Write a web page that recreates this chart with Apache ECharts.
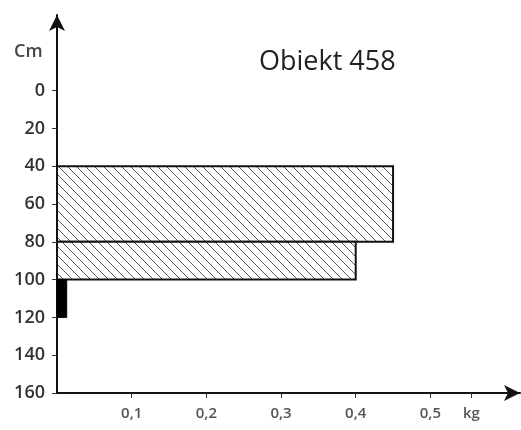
<!DOCTYPE html>
<html>
<head>
<meta charset="utf-8">
<style>
  html, body { margin: 0; padding: 0; background: #fff; }
  #chart { width: 521px; height: 430px; }
</style>
<script src="https://cdn.jsdelivr.net/npm/echarts@6/dist/echarts.min.js"></script>
</head>
<body>
<div id="chart"></div>
<script>
// Layers of the profile: depth range (cm) and mass (kg)
const layerTop = [40, 80, 100];
const layerBottom = [80, 100, 120];
const layerMass = [0.45, 0.40, 0.013];
const layerHatched = [true, true, false];

const depthTicks = [0, 20, 40, 60, 80, 100, 120, 140, 160];
const massTicks = [0.1, 0.2, 0.3, 0.4, 0.5];
const massUnitAt = 0.555;

// Diagonal hatch pattern
function makeHatch() {
  const s = 9;
  const c = document.createElement('canvas');
  c.width = s; c.height = s;
  const g = c.getContext('2d');
  g.fillStyle = '#fff';
  g.fillRect(0, 0, s, s);
  g.strokeStyle = '#555';
  g.lineWidth = 1;
  g.beginPath();
  g.moveTo(-1, -1); g.lineTo(s + 1, s + 1);
  g.moveTo(-1, s - 1); g.lineTo(1, s + 1);
  g.moveTo(s - 1, -1); g.lineTo(s + 1, 1);
  g.stroke();
  return c;
}
const hatch = { image: makeHatch(), repeat: 'repeat' };

const data = layerTop.map((t, i) => [t, layerBottom[i], layerMass[i], layerHatched[i] ? 1 : 0]);

const chart = echarts.init(document.getElementById('chart'));
const labelFont = '"Open Sans", "Liberation Sans", sans-serif';

chart.setOption({
  animation: false,
  grid: { left: 57, right: 1, top: 15, bottom: 37, containLabel: false },
  title: {
    text: 'Obiekt 458',
    left: 254, top: 44,
    textStyle: { fontFamily: labelFont, fontSize: 27, fontWeight: 'normal', color: '#222' }
  },
  graphic: [{
    type: 'text', left: 14, top: 43,
    style: { text: 'Cm', font: '600 18px ' + labelFont, fill: '#444' }
  }],
  xAxis: {
    type: 'value', min: 0, max: 0.62,
    splitLine: { show: false },
    axisLine: { onZero: false, lineStyle: { color: '#111', width: 2 }, symbol: ['none', 'arrow'], symbolSize: [12, 16] },
    axisTick: { show: true, inside: false, length: 5, lineStyle: { color: '#333', width: 1 },
      customValues: massTicks.concat([massUnitAt]) },
    axisLabel: {
      customValues: massTicks.concat([massUnitAt]),
      margin: 13, fontFamily: labelFont, fontSize: 15, fontWeight: 600, color: '#555',
      formatter: v => (Math.abs(v - massUnitAt) < 1e-6 ? 'kg' : String(v).replace('.', ','))
    }
  },
  yAxis: {
    type: 'value', inverse: true, min: -40, max: 160,
    splitLine: { show: false },
    axisLine: { onZero: false, lineStyle: { color: '#111', width: 2 }, symbol: ['none', 'arrow'], symbolSize: [12, 16] },
    axisTick: { show: true, length: 5, lineStyle: { color: '#333', width: 1 }, customValues: depthTicks },
    axisLabel: {
      customValues: depthTicks,
      margin: 12, fontFamily: labelFont, fontSize: 18, fontWeight: 600, color: '#333'
    }
  },
  series: [{
    type: 'custom',
    data: data,
    encode: { x: 2, y: [0, 1] },
    renderItem: function (params, api) {
      const p0 = api.coord([0, api.value(0)]);
      const p1 = api.coord([api.value(2), api.value(1)]);
      const hatched = api.value(3) === 1;
      return {
        type: 'rect',
        shape: { x: p0[0], y: p0[1], width: p1[0] - p0[0], height: p1[1] - p0[1] },
        style: hatched
          ? { fill: hatch, stroke: '#111', lineWidth: 2 }
          : { fill: '#000', stroke: '#000', lineWidth: 1 }
      };
    }
  }]
});
</script>
</body>
</html>
